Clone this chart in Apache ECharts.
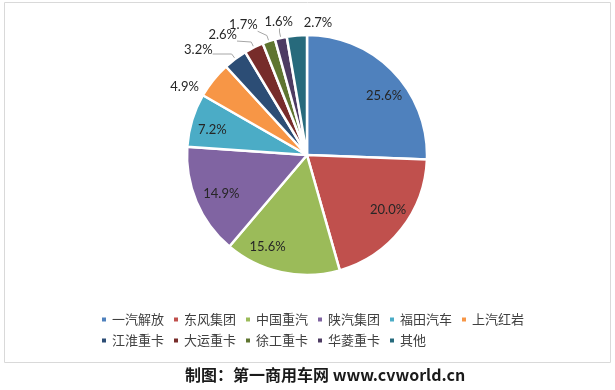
<!DOCTYPE html>
<html>
<head>
<meta charset="utf-8">
<script src="https://cdn.jsdelivr.net/npm/echarts@6/dist/echarts.min.js"></script>
<style>html,body{margin:0;padding:0;background:#fff}#c{width:615px;height:390px}</style>
</head>
<body>
<div id="c"></div>
<script>
const categories = ['一汽解放','东风集团','中国重汽','陕汽集团','福田汽车','上汽红岩','江淮重卡','大运重卡','徐工重卡','华菱重卡','其他'];
const values = [25.6, 20.0, 15.6, 14.9, 7.2, 4.9, 3.2, 2.6, 1.7, 1.6, 2.7];
const colors = ['#4F81BD','#C0504D','#9BBB59','#8064A2','#4BACC6','#F79646','#2C4D75','#772C2A','#5F7530','#4D3B62','#276A7C'];
const insideLabelCount = 5;
const noLeaderLine = ['上汽红岩','其他'];

// label placement style: [angle offset from slice middle (deg), distance from centre (px)]
const labelPolar = [[6.5, 97], [-4, 98], [11, 100], [-1.4, 94], [-2, 98],
                    [-9.7, 140], [-9.3, 151], [-8.7, 147], [-7.5, 145], [0.6, 136], [9.6, 133]];

const CX = 307, CY = 155, R = 120;
const total = values.reduce((a, b) => a + b, 0);
const midAngles = [];
values.reduce((acc, v) => { midAngles.push((acc + v / 2) / total * 360); return acc + v; }, 0);
const polar = (deg, r) => { const a = deg * Math.PI / 180; return [CX + r * Math.sin(a), CY - r * Math.cos(a)]; };

const fmt = p => p.value.toFixed(1) + '%';
const labelFont = {fontFamily: 'Lato', fontSize: 13, color: '#262626'};

const mainData = categories.map((name, i) => ({
  name, value: values[i],
  itemStyle: {color: colors[i]},
  label: {show: true, position: i < insideLabelCount ? 'inside' : 'outside'},
  labelLine: {show: i >= insideLabelCount && noLeaderLine.indexOf(name) < 0}
}));

function layoutLabel(params) {
  const i = params.dataIndex;
  const spec = labelPolar[i];
  const c = polar(midAngles[i] + spec[0], spec[1]);
  if (i < insideLabelCount) return {x: c[0], y: c[1], align: 'center', verticalAlign: 'middle'};
  const w = params.labelRect.width, h = params.labelRect.height;
  const p0 = polar(midAngles[i], R);
  const p1 = polar(midAngles[i], R + 6);
  const x1 = c[0] - w / 2, x2 = c[0] + w / 2, y1 = c[1] - h / 2, y2 = c[1] + h / 2;
  const p2 = [Math.min(Math.max(p1[0], x1), x2), Math.min(Math.max(p1[1], y1), y2)];
  return {x: c[0], y: c[1], align: 'center', verticalAlign: 'middle', labelLinePoints: [p0, p1, p2]};
}

const chart = echarts.init(document.getElementById('c'));
chart.setOption({
  animation: false,
  color: colors,
  graphic: [
    {type: 'rect', shape: {x: 4.5, y: 2.5, width: 606, height: 360}, style: {fill: 'none', stroke: '#d9d9d9', lineWidth: 1}, z: -1},
    {type: 'text', left: 185, top: 367, style: {text: '制图：第一商用车网 www.cvworld.cn', font: 'bold 16px "Noto Sans CJK SC"', fill: '#1a1a1a'}}
  ],
  legend: {
    data: categories,
    left: 100, top: 313, width: 440, padding: 0,
    icon: 'rect', itemWidth: 6, itemHeight: 6, itemGap: 8,
    textStyle: {fontFamily: 'Noto Sans CJK SC', fontSize: 13, color: '#404040', lineHeight: 13}
  },
  series: [
    {
      type: 'pie', center: [CX, CY], radius: [0, R], startAngle: 90, clockwise: true,
      avoidLabelOverlap: false,
      itemStyle: {borderColor: '#fff', borderWidth: 2.5},
      label: Object.assign({formatter: fmt}, labelFont),
      labelLine: {length: 8, length2: 8, lineStyle: {color: '#a6a6a6', width: 1}},
      labelLayout: layoutLabel,
      data: mainData
    }
  ]
});
</script>
</body>
</html>
